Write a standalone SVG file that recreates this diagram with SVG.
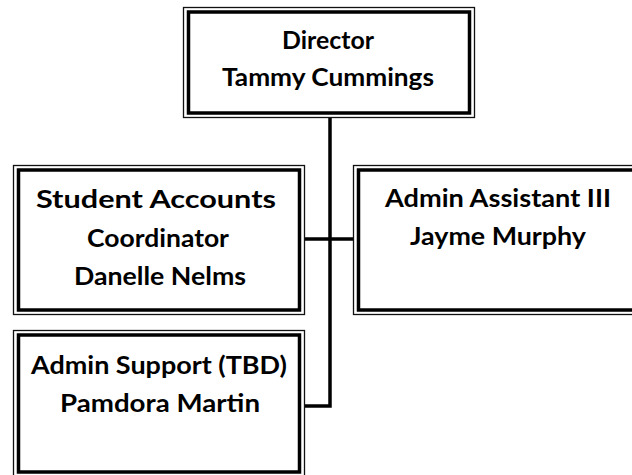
<svg xmlns="http://www.w3.org/2000/svg" width="632" height="475" viewBox="0 0 632 475">
<style>
.outer{fill:none;stroke:#111;stroke-width:1.3}
.inner{fill:#fff;stroke:#000;stroke-width:3.5}
.t{font-family:Lato,"Open Sans","Liberation Sans",sans-serif;font-weight:bold;font-size:25px;fill:#000;text-anchor:middle}
.c{fill:none;stroke:#000;stroke-width:3.5;stroke-linejoin:miter;stroke-linecap:butt}
</style>
<rect width="632" height="475" fill="#fff"/>
<g id="connectors">
<path class="c" d="M330 117 V406 H305"/>
<path class="c" d="M305 239 H354"/>
</g>
<g id="director">
<rect class="outer" x="183.5" y="7.5" width="291" height="110"/>
<rect class="inner" x="188.5" y="12" width="281" height="101"/>
<text class="t" x="328" y="49" textLength="92" lengthAdjust="spacingAndGlyphs">Director</text>
<text class="t" x="328" y="86" textLength="212" lengthAdjust="spacingAndGlyphs">Tammy Cummings</text>
</g>
<g id="student-accounts">
<rect class="outer" x="13.5" y="165.5" width="291" height="149"/>
<rect class="inner" x="18.5" y="170" width="281" height="140"/>
<text class="t" x="156" y="208" textLength="240" lengthAdjust="spacingAndGlyphs">Student Accounts</text>
<text class="t" x="158" y="247" textLength="142" lengthAdjust="spacingAndGlyphs">Coordinator</text>
<text class="t" x="160" y="285" textLength="172" lengthAdjust="spacingAndGlyphs">Danelle Nelms</text>
</g>
<g id="admin-assistant">
<rect class="outer" x="353.5" y="165.5" width="300" height="149"/>
<rect class="inner" x="358.5" y="170" width="290" height="140"/>
<text class="t" x="498" y="207" textLength="226" lengthAdjust="spacingAndGlyphs">Admin Assistant III</text>
<text class="t" x="498" y="245" textLength="176" lengthAdjust="spacingAndGlyphs">Jayme Murphy</text>
</g>
<g id="admin-support">
<rect class="outer" x="13.5" y="330.5" width="291" height="150"/>
<rect class="inner" x="18.5" y="335" width="281" height="137"/>
<text class="t" x="159" y="374" textLength="256" lengthAdjust="spacingAndGlyphs">Admin Support (TBD)</text>
<text class="t" x="160" y="412" textLength="200" lengthAdjust="spacingAndGlyphs">Pamdora Martin</text>
</g>
</svg>
